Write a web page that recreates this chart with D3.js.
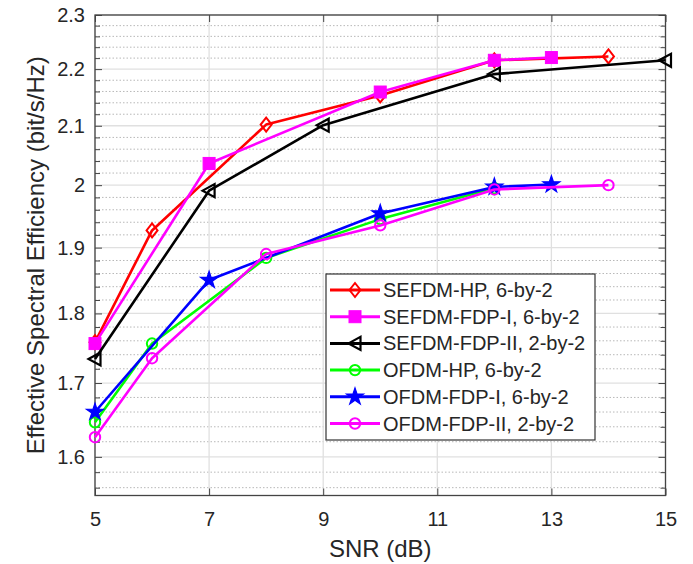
<!DOCTYPE html>
<html><head><meta charset="utf-8">
<script src="https://cdn.jsdelivr.net/npm/d3@7"></script>
<style>body{margin:0;background:#fff}svg{display:block}text{font-family:"Liberation Sans",Arial,sans-serif;fill:#262626}</style>
</head><body>
<script>
// ---- data ----
const seriesNames = ["SEFDM-HP, 6-by-2","SEFDM-FDP-I, 6-by-2","SEFDM-FDP-II, 2-by-2","OFDM-HP, 6-by-2","OFDM-FDP-I, 6-by-2","OFDM-FDP-II, 2-by-2"];
const sefdmHP_x = [5,6,8,10,12,14];
const sefdmHP_y = [1.758,1.927,2.102,2.153,2.216,2.223];
const sefdmFDP1_x = [5,7,10,12,13];
const sefdmFDP1_y = [1.756,2.036,2.159,2.216,2.221];
const sefdmFDP2_x = [5,7,9,12,15];
const sefdmFDP2_y = [1.734,1.991,2.101,2.191,2.216];
const ofdmHP_x = [5,6,8,10,12];
const ofdmHP_y = [1.646,1.756,1.884,1.945,1.995];
const ofdmFDP1_x = [5,7,10,12,13];
const ofdmFDP1_y = [1.660,1.850,1.954,1.997,2.001];
const ofdmFDP2_x = [5,6,8,10,12,14];
const ofdmFDP2_y = [1.626,1.735,1.890,1.935,1.993,2.000];
const xTicks = [5,7,9,11,13,15];
const yTicks = [1.6,1.7,1.8,1.9,2.0,2.1,2.2,2.3];
const yMinor = [1.56,1.58,1.62,1.64,1.66,1.68,1.72,1.74,1.76,1.78,1.82,1.84,1.86,1.88,1.92,1.94,1.96,1.98,2.02,2.04,2.06,2.08,2.12,2.14,2.16,2.18,2.22,2.24,2.26,2.28];

const W=693,H=564;
const L=95,R=665.5,T=15,B=495.5;
const svg=d3.select("body").append("svg").attr("width",W).attr("height",H);
const x=d3.scaleLinear().domain([5,15]).range([L,R]);
const y=d3.scaleLog().domain([1.55,2.3]).range([B,T]);

// grid
const g=svg.append("g");
g.selectAll(".ymin").data(yMinor).enter().append("line")
 .attr("x1",L).attr("x2",R).attr("y1",d=>y(d)).attr("y2",d=>y(d))
 .attr("stroke","#b8b8b8").attr("stroke-width",1).attr("stroke-dasharray","1.5,2");
g.selectAll(".ymaj").data(yTicks).enter().append("line")
 .attr("x1",L).attr("x2",R).attr("y1",d=>y(d)).attr("y2",d=>y(d))
 .attr("stroke","#e0e0e0").attr("stroke-width",1.3);
g.selectAll(".xmaj").data(xTicks).enter().append("line")
 .attr("y1",T).attr("y2",B).attr("x1",d=>x(d)).attr("x2",d=>x(d))
 .attr("stroke","#e0e0e0").attr("stroke-width",1.3);

// axes with inward ticks
const fmt=d=>Math.abs(d-2)<1e-9?"2":d3.format(".1f")(d);
const axL=svg.append("g").attr("transform",`translate(${L},0)`)
 .call(d3.axisLeft(y).tickValues(yTicks).tickFormat(fmt).tickSize(-7).tickPadding(10));
const axLm=svg.append("g").attr("transform",`translate(${L},0)`)
 .call(d3.axisLeft(y).tickValues(yMinor).tickFormat("").tickSize(-5));
const axR=svg.append("g").attr("transform",`translate(${R},0)`)
 .call(d3.axisRight(y).tickValues(yTicks).tickFormat("").tickSize(-7));
const axRm=svg.append("g").attr("transform",`translate(${R},0)`)
 .call(d3.axisRight(y).tickValues(yMinor).tickFormat("").tickSize(-5));
const axB=svg.append("g").attr("transform",`translate(0,${B})`)
 .call(d3.axisBottom(x).tickValues(xTicks).tickFormat(d3.format("d")).tickSize(-7).tickPadding(16));
const axT=svg.append("g").attr("transform",`translate(0,${T})`)
 .call(d3.axisTop(x).tickValues(xTicks).tickFormat("").tickSize(-7));
[axL,axLm,axR,axRm,axB,axT].forEach(a=>{
  a.select(".domain").remove();
  a.selectAll(".tick line").attr("stroke","#444").attr("stroke-width",1);
  a.selectAll("text").attr("font-size",20).attr("fill","#262626");
});
svg.append("rect").attr("x",L).attr("y",T).attr("width",R-L).attr("height",B-T)
 .attr("fill","none").attr("stroke","#444").attr("stroke-width",1.3);

// series
const series=[
 {name:seriesNames[0],xs:sefdmHP_x,ys:sefdmHP_y,color:"#ff0000",sym:"diamond"},
 {name:seriesNames[1],xs:sefdmFDP1_x,ys:sefdmFDP1_y,color:"#ff00ff",sym:"square"},
 {name:seriesNames[2],xs:sefdmFDP2_x,ys:sefdmFDP2_y,color:"#000000",sym:"triLeft"},
 {name:seriesNames[3],xs:ofdmHP_x,ys:ofdmHP_y,color:"#00ff00",sym:"circle"},
 {name:seriesNames[4],xs:ofdmFDP1_x,ys:ofdmFDP1_y,color:"#0000ff",sym:"star"},
 {name:seriesNames[5],xs:ofdmFDP2_x,ys:ofdmFDP2_y,color:"#ff00ff",sym:"circle"}
];
function marker(sel,s,cx,cy){
  if(s.sym==="diamond"){
    sel.append("path").attr("d",`M${cx},${cy-7}L${cx+5.5},${cy}L${cx},${cy+7}L${cx-5.5},${cy}Z`)
      .attr("fill","none").attr("stroke",s.color).attr("stroke-width",2);
  } else if(s.sym==="square"){
    sel.append("rect").attr("x",cx-6).attr("y",cy-6).attr("width",12).attr("height",12)
      .attr("fill",s.color).attr("stroke",s.color).attr("stroke-width",1);
  } else if(s.sym==="triLeft"){
    sel.append("path").attr("d",`M${cx-6.5},${cy}L${cx+5.5},${cy-6.5}L${cx+5.5},${cy+6.5}Z`)
      .attr("fill","none").attr("stroke",s.color).attr("stroke-width",2.2);
  } else if(s.sym==="circle"){
    sel.append("circle").attr("cx",cx).attr("cy",cy).attr("r",5.2)
      .attr("fill","none").attr("stroke",s.color).attr("stroke-width",2);
  } else if(s.sym==="star"){
    sel.append("path").attr("d",d3.symbol(d3.symbolStar,90)()).attr("transform",`translate(${cx},${cy})`)
      .attr("fill",s.color).attr("stroke",s.color).attr("stroke-width",1.2);
  }
}
const line=d3.line().x(d=>x(d[0])).y(d=>y(d[1]));
series.forEach(s=>{
  const pts=s.xs.map((v,i)=>[v,s.ys[i]]);
  const gs=svg.append("g");
  gs.append("path").attr("d",line(pts)).attr("fill","none").attr("stroke",s.color)
    .attr("stroke-width",2.6).attr("stroke-linejoin","round");
  pts.forEach(p=>marker(gs,s,x(p[0]),y(p[1])));
});

// legend
const lg=svg.append("g");
lg.append("rect").attr("x",326).attr("y",274).attr("width",269).attr("height",166)
 .attr("fill","#fff").attr("stroke","#333").attr("stroke-width",1.2);
series.forEach((s,i)=>{
  const cy=290+i*26.7;
  lg.append("line").attr("x1",330).attr("x2",380).attr("y1",cy).attr("y2",cy)
    .attr("stroke",s.color).attr("stroke-width",3);
  marker(lg,s,355,cy);
  lg.append("text").attr("x",383).attr("y",cy+7).attr("font-size",20).text(s.name);
});

// axis titles
svg.append("text").attr("x",(L+R)/2).attr("y",557).attr("text-anchor","middle")
 .attr("font-size",24).text("SNR (dB)");
svg.append("text").attr("transform",`translate(44,${(T+B)/2}) rotate(-90)`)
 .attr("text-anchor","middle").attr("font-size",24).text("Effective Spectral Efficiency (bit/s/Hz)");
</script>
</body></html>
